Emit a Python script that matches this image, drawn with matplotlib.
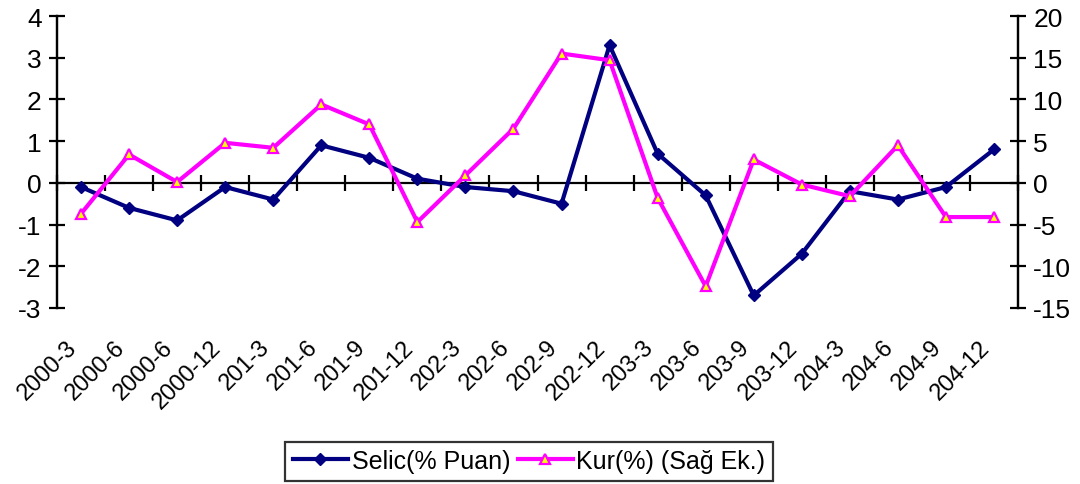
import matplotlib
matplotlib.use("Agg")
import matplotlib.pyplot as plt
import matplotlib.transforms as mtransforms
import numpy as np

plt.rcParams['font.family'] = ['Liberation Sans', 'DejaVu Sans']
plt.rcParams['axes.unicode_minus'] = False

categories = ["2000-3", "2000-6", "2000-6", "2000-12", "201-3", "201-6", "201-9",
              "201-12", "202-3", "202-6", "202-9", "202-12", "203-3", "203-6",
              "203-9", "203-12", "204-3", "204-6", "204-9", "204-12"]
selic = [-0.1, -0.6, -0.9, -0.1, -0.4, 0.9, 0.6, 0.1, -0.1, -0.2, -0.5, 3.3,
         0.7, -0.3, -2.7, -1.7, -0.2, -0.4, -0.1, 0.8]
kur = [-3.7, 3.4, 0.1, 4.8, 4.2, 9.4, 7.0, -4.7, 0.9, 6.5, 15.5, 14.7,
       -1.8, -12.4, 2.8, -0.2, -1.6, 4.5, -4.1, -4.1]
left_ticks = [-3, -2, -1, 0, 1, 2, 3, 4]
right_ticks = [-15, -10, -5, 0, 5, 10, 15, 20]

fig = plt.figure(figsize=(10.8, 4.85), dpi=100)
ax = fig.add_axes([57/1080, 1-309/485, (1018-57)/1080, 292/485])
ax2 = ax.twinx()

n = len(categories)
x = np.arange(n)

l1, = ax.plot(x, selic, color='#000080', lw=3, marker='D', ms=6,
              mfc='#000080', mec='#000080', label='Selic(% Puan)', zorder=3)
l2, = ax2.plot(x, kur, color='#FF00FF', lw=3, marker='^', ms=7.5,
               mfc='#FFFF00', mec='#FF00FF', mew=1.6, label='Kur(%) (Sağ Ek.)', zorder=3)

ax.set_xlim(-0.5, n-0.5)
ax.set_ylim(left_ticks[0], left_ticks[-1])
ax2.set_ylim(right_ticks[0], right_ticks[-1])
ax.set_yticks(left_ticks)
ax2.set_yticks(right_ticks)

for a in (ax, ax2):
    a.spines['top'].set_visible(False)
    a.spines['bottom'].set_visible(False)
    a.spines['left'].set_linewidth(1.6)
    a.spines['right'].set_linewidth(1.6)
ax.tick_params(axis='y', direction='inout', length=12, width=1.6, labelsize=19, pad=5)
ax2.tick_params(axis='y', direction='inout', length=12, width=1.6, labelsize=19, pad=5)

# category labels at bottom
ax.set_xticks(x)
ax.set_xticklabels(categories, rotation=45, ha='right', rotation_mode='anchor', fontsize=17)
ax.tick_params(axis='x', length=0, pad=20)
shift = mtransforms.ScaledTranslation(-15/100, 0, fig.dpi_scale_trans)
for lab in ax.get_xticklabels():
    lab.set_transform(lab.get_transform() + shift)

# zero line with boundary ticks
y0 = (0 - left_ticks[0]) / (left_ticks[-1] - left_ticks[0])
sec = ax.secondary_xaxis(y0)
sec.spines['bottom'].set_linewidth(1.6)
sec.set_xticks(np.arange(n + 1) - 0.5)
sec.set_xticklabels([])
sec.tick_params(axis='x', direction='inout', length=12, width=1.6)
sec.spines['top'].set_visible(False)

leg = fig.legend(handles=[l1, l2], loc='center', bbox_to_anchor=(529/1080, 1-462/485),
                 ncol=2, fontsize=18, frameon=True, fancybox=False, handlelength=2.2,
                 handletextpad=0.15, columnspacing=0.3, borderpad=0.3, borderaxespad=0)
leg.get_frame().set_edgecolor('black')
leg.get_frame().set_linewidth(1.6)

fig.savefig('out.png', dpi=100)
